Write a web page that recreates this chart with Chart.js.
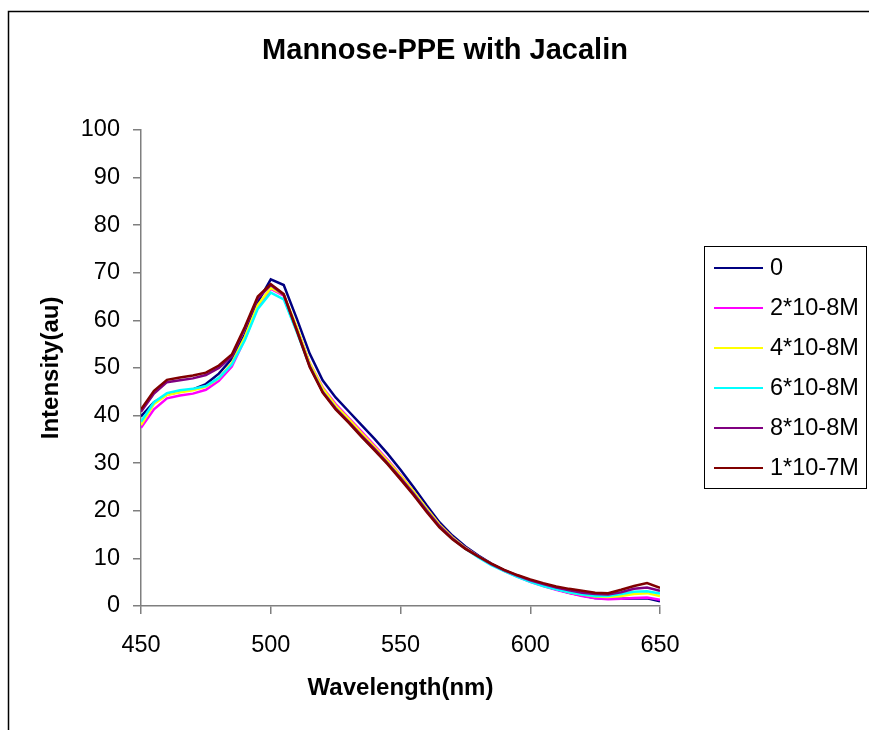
<!DOCTYPE html>
<html>
<head>
<meta charset="utf-8">
<script src="https://cdn.jsdelivr.net/npm/chart.js@4.4.1/dist/chart.umd.min.js"></script>
<style>
	html, body { margin: 0; padding: 0; background: #fff; overflow: hidden; }
	#wrap { position: relative; width: 869px; height: 730px; }
</style>
</head>
<body>
<div id="wrap"><canvas id="spectraChart" width="869" height="730"></canvas></div>
<script>
let wavelength = [450, 455, 460, 465, 470, 475, 480, 485, 490, 495, 500, 505, 510, 515, 520, 525, 530, 535, 540, 545, 550,
	555, 560, 565, 570, 575, 580, 585, 590, 595, 600, 605, 610, 615, 620, 625, 630, 635, 640, 645, 650];

let conc0 = [39.8, 42.8, 44.4, 45.0, 45.5, 46.6, 48.8, 51.9, 57.0, 63.8, 68.6, 67.4, 60.4, 53.0, 47.4, 43.8, 40.9, 38.0, 35.1, 32.0, 28.6,
	25.0, 21.2, 17.6, 14.8, 12.5, 10.6, 8.9, 7.5, 6.3, 5.2, 4.3, 3.5, 2.8, 2.2, 1.7, 1.5, 1.5, 1.6, 1.6, 1.0];
let conc2e8 = [37.4, 41.3, 43.6, 44.2, 44.6, 45.4, 47.3, 50.3, 56.0, 62.8, 66.6, 65.2, 58.4, 51.0, 45.9, 42.4, 39.5, 36.6, 33.7, 30.7, 27.5,
	24.1, 20.5, 17.1, 14.4, 12.2, 10.4, 8.8, 7.4, 6.2, 5.1, 4.2, 3.4, 2.7, 2.1, 1.6, 1.4, 1.5, 1.7, 1.8, 1.3];
let conc4e8 = [38.0, 42.4, 44.3, 44.9, 45.3, 46.0, 47.8, 51.0, 56.5, 63.2, 66.8, 65.4, 58.6, 51.0, 45.7, 42.1, 39.3, 36.3, 33.4, 30.5, 27.4,
	24.1, 20.5, 17.1, 14.4, 12.2, 10.4, 8.8, 7.4, 6.3, 5.2, 4.3, 3.6, 2.9, 2.4, 2.0, 1.9, 2.1, 2.5, 2.7, 2.1];
let conc6e8 = [38.7, 42.8, 44.7, 45.3, 45.6, 46.2, 47.9, 50.7, 55.8, 62.4, 65.8, 64.4, 57.6, 50.4, 45.0, 41.5, 38.6, 35.6, 32.8, 29.9, 26.8,
	23.6, 20.1, 16.7, 14.1, 12.0, 10.2, 8.6, 7.3, 6.1, 5.1, 4.2, 3.5, 2.9, 2.4, 2.1, 2.1, 2.5, 3.0, 3.1, 2.6];
let conc8e8 = [40.8, 44.6, 47.0, 47.4, 47.8, 48.5, 50.0, 52.4, 58.2, 64.6, 67.4, 65.3, 58.0, 50.4, 45.0, 41.5, 38.7, 35.8, 33.0, 30.0, 26.9,
	23.6, 20.1, 16.8, 14.2, 12.1, 10.4, 8.8, 7.5, 6.4, 5.4, 4.6, 3.9, 3.3, 2.8, 2.5, 2.4, 2.9, 3.6, 3.9, 3.2];
let conc1e7 = [41.3, 45.2, 47.5, 48.0, 48.4, 49.0, 50.5, 52.8, 58.6, 65.0, 67.6, 65.5, 57.9, 50.2, 44.8, 41.3, 38.5, 35.5, 32.7, 29.8, 26.6,
	23.3, 19.8, 16.5, 14.0, 12.0, 10.4, 8.9, 7.6, 6.5, 5.6, 4.8, 4.1, 3.6, 3.2, 2.8, 2.7, 3.4, 4.2, 4.8, 3.8];

let seriesNames = ['0', '2*10-8M', '4*10-8M', '6*10-8M', '8*10-8M', '1*10-7M'];
let seriesColors = ['#000080', '#FF00FF', '#FFFF00', '#00FFFF', '#800080', '#800000'];
let seriesValues = [conc0, conc2e8, conc4e8, conc6e8, conc8e8, conc1e7];

let xTicks = [450, 500, 550, 600, 650];
let yTicks = [0, 10, 20, 30, 40, 50, 60, 70, 80, 90, 100];

const FONT = 'Liberation Sans, Arial, sans-serif';

// outer frame + legend box drawn on the canvas
const framePlugin = {
	id: 'framePlugin',
	afterDraw(chart) {
		const c = chart.ctx;
		c.save();
		c.strokeStyle = '#000';
		c.lineWidth = 1.5;
		c.beginPath();
		c.moveTo(8.5, 740);
		c.lineTo(8.5, 11.5);
		c.lineTo(880, 11.5);
		c.stroke();

		// legend
		c.lineWidth = 1;
		c.strokeStyle = '#000';
		c.strokeRect(704.5, 246.5, 162, 242);
		c.font = '23.5px ' + FONT;
		c.textBaseline = 'middle';
		c.textAlign = 'left';
		chart.data.datasets.forEach(function (ds, i) {
			let y = 268 + i * 40;
			c.strokeStyle = ds.borderColor;
			c.lineWidth = 2;
			c.beginPath();
			c.moveTo(714, y);
			c.lineTo(763, y);
			c.stroke();
			c.fillStyle = '#000';
			c.fillText(ds.label, 770, y + 1);
		});
		c.restore();
	}
};

var ctx = document.getElementById('spectraChart').getContext('2d');
var spectraChart = new Chart(ctx, {
	type: 'line',
	data: {
		datasets: seriesValues.map(function (vals, i) {
			return {
				label: seriesNames[i],
				data: vals.map(function (v, j) { return { x: wavelength[j], y: v }; }),
				borderColor: seriesColors[i],
				backgroundColor: seriesColors[i],
				borderWidth: 2.5,
				pointRadius: 0,
				tension: 0,
				order: seriesValues.length - i // last series on top, like the original
			};
		})
	},
	options: {
		responsive: false,
		animation: false,
		layout: { padding: { left: 21, right: 0, top: 0, bottom: 0 } },
		plugins: {
			legend: { display: false },
			tooltip: { enabled: false },
			title: {
				display: true,
				text: 'Mannose-PPE with Jacalin',
				color: '#000',
				font: { family: FONT, size: 29, weight: 'bold' },
				padding: { top: 34, bottom: 61 }
			}
		},
		scales: {
			x: {
				type: 'linear',
				min: 450,
				max: 650,
				afterBuildTicks: function (scale) { scale.ticks = xTicks.map(function (v) { return { value: v }; }); },
				afterFit: function (scale) { scale.height = 124; },
				ticks: { color: '#000', font: { family: FONT, size: 23.5 }, padding: 17, maxRotation: 0 },
				grid: { drawOnChartArea: false, color: '#7f7f7f', tickLength: 8, lineWidth: 1.5 },
				border: { color: '#7f7f7f', width: 1.5 },
				title: {
					display: true,
					text: 'Wavelength(nm)',
					color: '#000',
					font: { family: FONT, size: 24, weight: 'bold' },
					padding: { top: 0, bottom: 27 }
				}
			},
			y: {
				min: 0,
				max: 100,
				afterBuildTicks: function (scale) { scale.ticks = yTicks.map(function (v) { return { value: v }; }); },
				afterFit: function (scale) { scale.width = 120; },
				ticks: { color: '#000', font: { family: FONT, size: 23.5 }, padding: 13 },
				grid: { drawOnChartArea: false, color: '#7f7f7f', tickLength: 8, lineWidth: 1.5 },
				border: { color: '#7f7f7f', width: 1.5 },
				title: {
					display: true,
					text: 'Intensity(au)',
					color: '#000',
					font: { family: FONT, size: 24, weight: 'bold' },
					padding: { top: 16, bottom: 0 }
				}
			},
			// empty axis that keeps room on the right for the legend
			yRight: {
				position: 'right',
				min: 0,
				max: 100,
				afterFit: function (scale) { scale.width = 209; },
				ticks: { display: false },
				grid: { display: false },
				border: { display: false }
			}
		}
	},
	plugins: [framePlugin]
});
</script>
</body>
</html>
